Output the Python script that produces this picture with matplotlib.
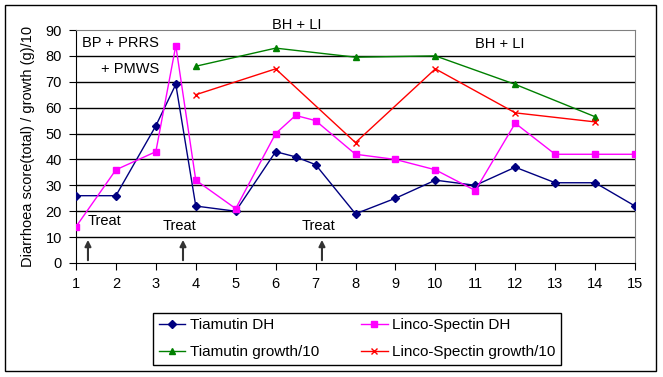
import numpy as np
import matplotlib
matplotlib.use("Agg")
import matplotlib.pyplot as plt
from matplotlib.patches import Rectangle

plt.rcParams['font.family'] = ['Liberation Sans', 'DejaVu Sans']

# days (with half days in between)
dh_x = [1, 2, 3, 3.5, 4, 5, 6, 6.5, 7, 8, 9, 10, 11, 12, 13, 14, 15]
tiamutin_dh = [26, 26, 53, 69, 22, 20, 43, 41, 38, 19, 25, 32, 30, 37, 31, 31, 22]
linco_dh = [14, 36, 43, 84, 32, 21, 50, 57, 55, 42, 40, 36, 28, 54, 42, 42, 42]

growth_x = [4, 6, 8, 10, 12, 14]
tiamutin_growth = [76, 83, 79.5, 80, 69, 56.5]
linco_growth = [65, 75, 46.5, 75, 58, 54.5]

treat_x = [1.3, 3.68, 7.16]

fig = plt.figure(figsize=(6.63, 3.77), dpi=100)
fig.patches.append(Rectangle((0.008, 0.016), 0.981, 0.97, transform=fig.transFigure,
                             fill=False, edgecolor='black', linewidth=1))
ax = fig.add_axes([0.1146, 0.3024, 0.8432, 0.618])

for y in range(10, 90, 10):
    ax.axhline(y, color='black', linewidth=1, zorder=1)

l1, = ax.plot(dh_x, tiamutin_dh, '-D', color='#000080', lw=1, ms=4.5, label='Tiamutin DH', zorder=3)
l2, = ax.plot(dh_x, linco_dh, '-s', color='#FF00FF', lw=1, ms=5, label='Linco-Spectin DH', zorder=3)
l3, = ax.plot(growth_x, tiamutin_growth, '-^', color='#008000', lw=1, ms=5, label='Tiamutin growth/10', zorder=3)
l4, = ax.plot(growth_x, linco_growth, '-x', color='#FF0000', lw=1, ms=5, label='Linco-Spectin growth/10', zorder=3)

for tx in treat_x:
    ax.annotate('', xy=(tx, 10), xytext=(tx, 0),
                arrowprops=dict(arrowstyle='-|>', color='#333333', lw=1.5, mutation_scale=9))
ax.text(1.28, 16.2, 'Treat', fontsize=10.5, ha='left', va='center')
ax.text(3.58, 14.3, 'Treat', fontsize=10.5, ha='center', va='center')
ax.text(7.07, 14.3, 'Treat', fontsize=10.5, ha='center', va='center')
ax.text(1.15, 85, 'BP + PRRS', fontsize=10.5, ha='left', va='center')
ax.text(1.63, 75, '+ PMWS', fontsize=10.5, ha='left', va='center')
ax.text(6.53, 92, 'BH + LI', fontsize=10.5, ha='center', va='center', clip_on=False)
ax.text(11.62, 84.6, 'BH + LI', fontsize=10.5, ha='center', va='center')

ax.set_xlim(1, 15)
ax.set_ylim(0, 90)
ax.set_xticks(range(1, 16))
ax.set_yticks(range(0, 91, 10))
ax.tick_params(labelsize=10.5, length=5, direction='out', color='black', pad=5)
ax.set_ylabel('Diarrhoea score(total) / growth (g)/10', fontsize=10.5, labelpad=8)
for s in ax.spines.values():
    s.set_color('#808080')
ax.spines['bottom'].set_color('black')
ax.spines['left'].set_color('black')

ax.legend([l1, l3, l2, l4], [l.get_label() for l in [l1, l3, l2, l4]],
          loc='upper center', bbox_to_anchor=(0.503, -0.2146), ncol=2, fontsize=11,
          frameon=True, fancybox=False, edgecolor='black', framealpha=1,
          columnspacing=2.75, handlelength=1.75, handletextpad=0.3,
          borderpad=0.35, labelspacing=0.85, borderaxespad=0)

fig.savefig('out.png', dpi=100)
